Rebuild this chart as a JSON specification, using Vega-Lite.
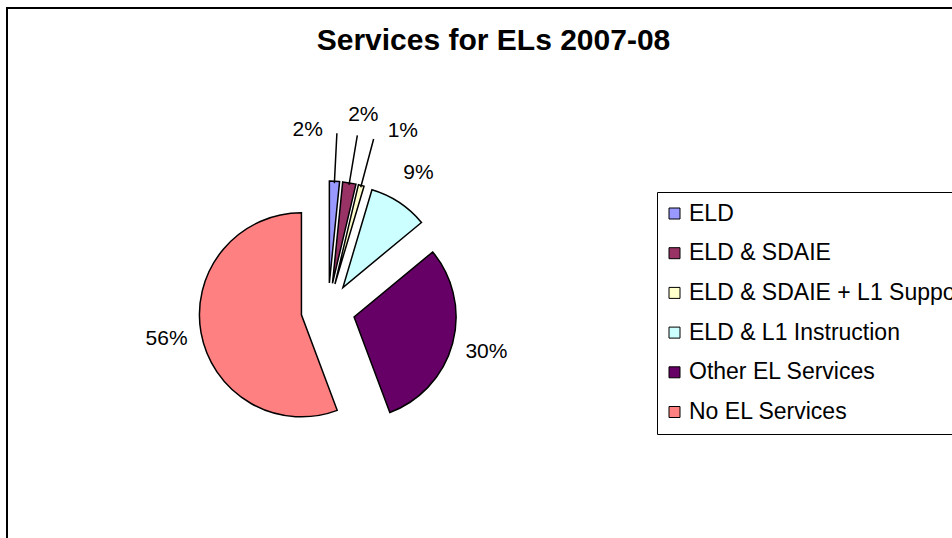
{
  "$schema": "https://vega.github.io/schema/vega-lite/v6.json",
  "autosize": {"type": "none"},
  "width": 945,
  "height": 530,
  "padding": {"left": 7, "top": 8, "right": 0, "bottom": 0},
  "background": "white",
  "view": {"stroke": "black", "strokeWidth": 2, "fill": "white", "strokeDash": [945, 1475, 530]},
  "config": {
    "font": "Liberation Sans"
  },
  "title": {
    "text": "Services for ELs 2007-08",
    "font": "Liberation Sans",
    "fontSize": 30,
    "fontWeight": "bold",
    "color": "black",
    "anchor": "middle",
    "frame": "group",
    "baseline": "alphabetic",
    "offset": 0,
    "dx": 14,
    "dy": 72
  },
  "data": {
    "values": [
      {"order": 1, "category": "ELD", "value": 1.6},
      {"order": 2, "category": "ELD & SDAIE", "value": 2.1},
      {"order": 3, "category": "ELD & SDAIE + L1 Support", "value": 0.9},
      {"order": 4, "category": "ELD & L1 Instruction", "value": 9.4},
      {"order": 5, "category": "Other EL Services", "value": 30.3},
      {"order": 6, "category": "No EL Services", "value": 55.7}
    ]
  },
  "transform": [
    {"stack": "value", "groupby": [], "sort": [{"field": "order", "order": "ascending"}], "as": ["s0", "s1"]},
    {"calculate": "(datum.s0 + datum.s1) / 2", "as": "midp"},
    {"calculate": "datum.midp / 100 * 2 * PI", "as": "mida"},
    {"calculate": "27 * sin(datum.mida)", "as": "ex"},
    {"calculate": "-27 * cos(datum.mida)", "as": "ey"},
    {"calculate": "datum.value / 100", "as": "pct"}
  ],
  "layer": [
    {
      "mark": {"type": "arc", "x": 321, "y": 302, "outerRadius": 102, "stroke": "black", "strokeWidth": 1.5},
      "encoding": {
        "theta": {"field": "s0", "type": "quantitative", "stack": null, "scale": {"domain": [0, 100]}},
        "theta2": {"field": "s1"},
        "xOffset": {"field": "ex", "type": "quantitative", "scale": null},
        "yOffset": {"field": "ey", "type": "quantitative", "scale": null},
        "color": {
          "field": "category",
          "type": "nominal",
          "sort": null,
          "scale": {
            "domain": ["ELD", "ELD & SDAIE", "ELD & SDAIE + L1 Support", "ELD & L1 Instruction", "Other EL Services", "No EL Services"],
            "range": ["#9999FF", "#993366", "#FFFFCC", "#CCFFFF", "#660066", "#FF8080"]
          },
          "legend": {
            "title": null,
            "orient": "none",
            "legendX": 650,
            "legendY": 184,
            "strokeColor": "black",
            "fillColor": "white",
            "padding": 10,
            "symbolType": "square",
            "symbolSize": 121,
            "symbolOffset": -4,
            "symbolStrokeColor": "black",
            "symbolStrokeWidth": 1,
            "symbolOpacity": 1,
            "labelFont": "Liberation Sans",
            "labelFontSize": 23,
            "labelColor": "black",
            "labelLimit": 500,
            "labelOffset": 3,
            "rowPadding": 15.7
          }
        }
      }
    },
    {
      "transform": [{"filter": "datum.value < 5"}],
      "mark": {"type": "arc", "x": 321, "y": 302, "radius": 150, "radius2": 100, "stroke": "black", "strokeWidth": 1.5, "fill": null},
      "encoding": {
        "theta": {"field": "midp", "type": "quantitative", "stack": null, "scale": {"domain": [0, 100]}},
        "theta2": {"field": "midp"},
        "xOffset": {"field": "ex", "type": "quantitative", "scale": null},
        "yOffset": {"field": "ey", "type": "quantitative", "scale": null}
      }
    },
    {
      "transform": [{"filter": "datum.value >= 5"}],
      "mark": {"type": "text", "x": 321, "y": 302, "radius": 137, "fontSize": 21, "font": "Liberation Sans", "color": "black", "align": "center", "baseline": "middle"},
      "encoding": {
        "theta": {"field": "midp", "type": "quantitative", "stack": null, "scale": {"domain": [0, 100]}},
        "xOffset": {"field": "ex", "type": "quantitative", "scale": null},
        "yOffset": {"field": "ey", "type": "quantitative", "scale": null},
        "text": {"field": "pct", "type": "quantitative", "format": ".0%"}
      }
    },
    {
      "transform": [{"filter": "datum.category == 'ELD'"}],
      "mark": {"type": "text", "x": 321, "y": 302, "radius": 150, "fontSize": 21, "font": "Liberation Sans", "color": "black", "align": "right", "baseline": "middle", "dx": -14, "dy": -3},
      "encoding": {
        "theta": {"field": "midp", "type": "quantitative", "stack": null, "scale": {"domain": [0, 100]}},
        "xOffset": {"field": "ex", "type": "quantitative", "scale": null},
        "yOffset": {"field": "ey", "type": "quantitative", "scale": null},
        "text": {"field": "pct", "type": "quantitative", "format": ".0%"}
      }
    },
    {
      "transform": [{"filter": "datum.category == 'ELD & SDAIE'"}],
      "mark": {"type": "text", "x": 321, "y": 302, "radius": 150, "fontSize": 21, "font": "Liberation Sans", "color": "black", "align": "center", "baseline": "bottom", "dx": 6, "dy": -10},
      "encoding": {
        "theta": {"field": "midp", "type": "quantitative", "stack": null, "scale": {"domain": [0, 100]}},
        "xOffset": {"field": "ex", "type": "quantitative", "scale": null},
        "yOffset": {"field": "ey", "type": "quantitative", "scale": null},
        "text": {"field": "pct", "type": "quantitative", "format": ".0%"}
      }
    },
    {
      "transform": [{"filter": "datum.category == 'ELD & SDAIE + L1 Support'"}],
      "mark": {"type": "text", "x": 321, "y": 302, "radius": 150, "fontSize": 21, "font": "Liberation Sans", "color": "black", "align": "left", "baseline": "middle", "dx": 14, "dy": -8},
      "encoding": {
        "theta": {"field": "midp", "type": "quantitative", "stack": null, "scale": {"domain": [0, 100]}},
        "xOffset": {"field": "ex", "type": "quantitative", "scale": null},
        "yOffset": {"field": "ey", "type": "quantitative", "scale": null},
        "text": {"field": "pct", "type": "quantitative", "format": ".0%"}
      }
    }
  ]
}
